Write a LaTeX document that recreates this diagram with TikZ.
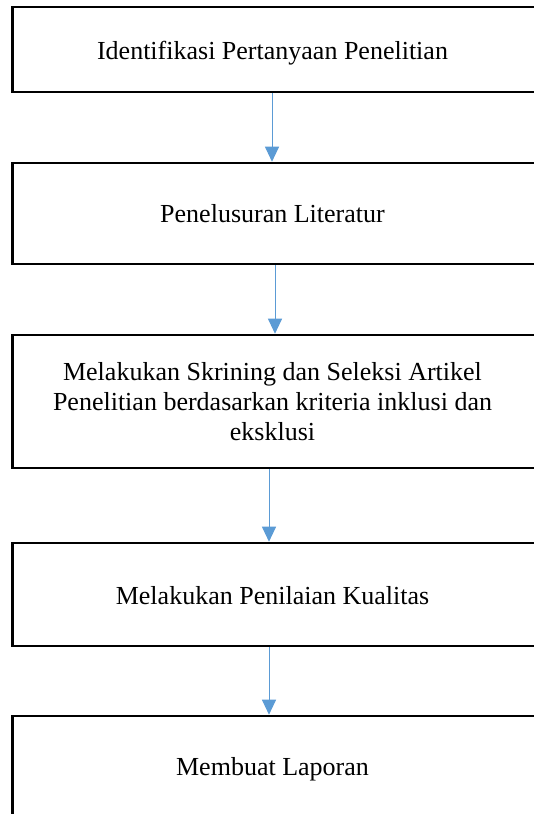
\documentclass[tikz,border=0pt]{standalone}
\usepackage{fontspec}
\setmainfont{Liberation Serif}
\usetikzlibrary{arrows.meta}
\definecolor{arrblue}{HTML}{5B9BD5}
\begin{document}
\begin{tikzpicture}[x=1pt,y=-1pt,
  stepbox/.style={draw=black,line width=2.6pt,fill=white,minimum width=530pt,inner sep=0pt},
  steptext/.style={inner sep=0pt,align=center,font=\fontsize{26}{30}\selectfont},
  arr/.style={draw=arrblue,line width=1pt,-{Triangle[width=14pt,length=15pt]}}]
\useasboundingbox (0,0) rectangle (533,814);
\fill[white] (0,0) rectangle (533,814);
\node[stepbox,minimum height=85pt]  (b1) at (277.5,49.5) {};
\node[stepbox,minimum height=101pt] (b2) at (277.5,213.5) {};
\node[stepbox,minimum height=133pt] (b3) at (277.5,401.5) {};
\node[stepbox,minimum height=103pt] (b4) at (277.5,594.5) {};
\node[stepbox,minimum height=104pt] (b5) at (277.5,768) {};
\node[steptext] (t1) at (272.5,53) {Identifikasi Pertanyaan Penelitian};
\node[steptext] (t2) at (272.5,214) {Penelusuran Literatur};
\node[steptext] (t3) at (272.5,402) {Melakukan Skrining dan Seleksi Artikel\\Penelitian berdasarkan kriteria inklusi dan\\eksklusi};
\node[steptext] (t4) at (272.5,596) {Melakukan Penilaian Kualitas};
\node[steptext] (t5) at (272.5,769) {Membuat Laporan};
\draw[arr] ([xshift=-5.5pt]b1.south) -- ([xshift=-5.5pt]b2.north);
\draw[arr] ([xshift=-2.5pt]b2.south) -- ([xshift=-2.5pt]b3.north);
\draw[arr] ([xshift=-8.5pt]b3.south) -- ([xshift=-8.5pt]b4.north);
\draw[arr] ([xshift=-8.5pt]b4.south) -- ([xshift=-8.5pt]b5.north);
\end{tikzpicture}
\end{document}
